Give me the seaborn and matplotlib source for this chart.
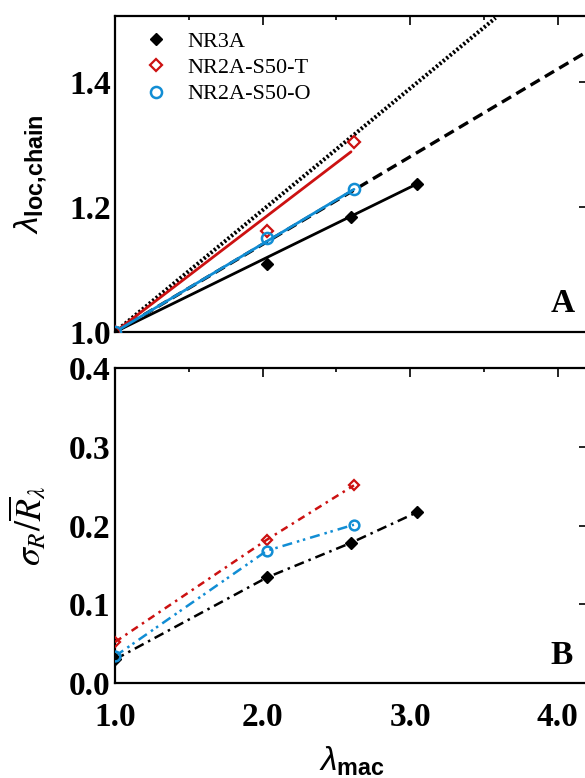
import matplotlib
matplotlib.use("Agg")
import matplotlib.pyplot as plt
import seaborn as sns
import pandas as pd
from matplotlib.lines import Line2D
from matplotlib.ticker import MultipleLocator

sns.set_theme(style="white")
plt.rcParams['font.family'] = ['Liberation Serif', 'DejaVu Serif']
plt.rcParams['mathtext.fontset'] = 'custom'
plt.rcParams['mathtext.rm'] = 'Liberation Sans'
plt.rcParams['mathtext.it'] = 'Liberation Sans:italic'
plt.rcParams['mathtext.bf'] = 'Liberation Sans:bold'
for k in ('text.color', 'axes.labelcolor', 'xtick.color', 'ytick.color'):
    plt.rcParams[k] = 'black'

# ---------------- data ----------------
series_names = ["NR3A", "NR2A-S50-T", "NR2A-S50-O"]

lam_nr3a = [1.0, 2.03, 2.60, 3.05]
loc_nr3a = [1.0, 1.109, 1.184, 1.237]
sig_nr3a = [0.030, 0.134, 0.178, 0.217]

lam_t = [1.0, 2.03, 2.62]
loc_t = [1.0, 1.162, 1.304]
sig_t = [0.052, 0.182, 0.251]

lam_o = [1.0, 2.03, 2.62]
loc_o = [1.0, 1.150, 1.229]
sig_o = [0.034, 0.168, 0.201]

# linear fit lines (panel A)
fit_nr3a_x = [1.0, 3.05]
fit_nr3a_y = [1.0, 1.237]
fit_t_x = [1.0, 2.60]
fit_t_y = [1.0, 1.288]
fit_o_x = [1.0, 2.62]
fit_o_y = [1.0, 1.228]

# reference lines (panel A)
dotted_x = [1.0, 3.58]
dotted_y = [1.0, 1.502]
dashed_x = [1.0, 4.20]
dashed_y = [1.0, 1.448]

x_ticks = [1.0, 2.0, 3.0, 4.0]
x_tick_labels = ["1.0", "2.0", "3.0", "4.0"]
yA_ticks = [1.0, 1.2, 1.4]
yA_tick_labels = ["1.0", "1.2", "1.4"]
yB_ticks = [0.0, 0.1, 0.2, 0.3, 0.4]
yB_tick_labels = ["0.0", "0.1", "0.2", "0.3", "0.4"]

# ---------------- style ----------------
BLACK = "#000000"
RED = "#cc1111"
BLUE = "#118dd4"

W, H = 585, 778
fig = plt.figure(figsize=(W / 100, H / 100), dpi=100)

def fbox(l, t, r, b):
    return [l / W, 1 - b / H, (r - l) / W, (b - t) / H]

axA = fig.add_axes(fbox(115, 16, 588, 332))
axB = fig.add_axes(fbox(115, 368, 588, 683))

XMAX = 1 + (588 - 115) / 147.5

tickfont = dict(family='Liberation Serif', weight='bold', size=24, color='black')

for ax in (axA, axB):
    ax.set_facecolor("white")
    for s in ax.spines.values():
        s.set_linewidth(1.6)
        s.set_color("black")
    ax.set_xlim(1.0, XMAX)
    ax.set_xticks(x_ticks)
    ax.xaxis.set_minor_locator(MultipleLocator(0.5))
    ax.tick_params(which='both', direction='in', top=True, right=True,
                   color='black', width=1.2)
    ax.tick_params(which='major', length=6.5)
    ax.tick_params(which='minor', length=3.2)
    ax.tick_params(axis='y', which='minor', left=False, right=False)
    ax.tick_params(axis='x', pad=14)
    ax.tick_params(axis='y', pad=3)
    ax.grid(False)

# ---------- panel A ----------
sns.lineplot(x=dotted_x, y=dotted_y, ax=axA, color=BLACK, lw=2.9,
             linestyle=(0, (0.55, 0.55)), zorder=2)
sns.lineplot(x=dashed_x, y=dashed_y, ax=axA, color=BLACK, lw=2.4,
             linestyle=(0, (3.2, 1.8)), zorder=2)
sns.lineplot(x=fit_nr3a_x, y=fit_nr3a_y, ax=axA, color=BLACK, lw=2.0, zorder=3)
sns.lineplot(x=fit_t_x, y=fit_t_y, ax=axA, color=RED, lw=2.0, zorder=3)
sns.lineplot(x=fit_o_x, y=fit_o_y, ax=axA, color=BLUE, lw=2.0, zorder=3)

axA.plot(lam_nr3a, loc_nr3a, linestyle='none', marker='D', ms=6.5,
         color=BLACK, mec=BLACK, zorder=5)
axA.plot(lam_t, loc_t, linestyle='none', marker='D', ms=6.5,
         mfc='none', mec=RED, mew=1.6, zorder=5)
axA.plot(lam_o, loc_o, linestyle='none', marker='o', ms=8,
         mfc='none', mec=BLUE, mew=1.8, zorder=5)

axA.set_ylim(1.0, 1.505)
axA.set_yticks(yA_ticks)
axA.set_yticklabels(yA_tick_labels, fontdict=tickfont)
axA.set_xticklabels([])
axA.set_ylabel(r'$\mathit{\lambda}_{\mathbf{loc{,}chain}}$', fontsize=24,
               math_fontfamily='custom', color='black')
axA.yaxis.set_label_coords(-0.14, 0.5)
axA.text(563 / W, 1 - 304 / H, "A", transform=fig.transFigure,
         ha='center', va='center', fontsize=24, fontweight='bold',
         family='Liberation Serif', color='black')

handles = [
    Line2D([], [], linestyle='none', marker='D', ms=6.5, color=BLACK),
    Line2D([], [], linestyle='none', marker='D', ms=6.5, mfc='none', mec=RED, mew=1.6),
    Line2D([], [], linestyle='none', marker='o', ms=8, mfc='none', mec=BLUE, mew=1.8),
]
leg = axA.legend(handles, series_names, loc='upper left',
                 bbox_to_anchor=(0.03, 1.0), frameon=False,
                 prop=dict(family='Liberation Serif', size=16),
                 handlelength=1.0, handletextpad=0.9, labelspacing=0.25,
                 borderaxespad=0.3, labelcolor='black')

# ---------- panel B ----------
sns.lineplot(x=lam_nr3a, y=sig_nr3a, ax=axB, color=BLACK, lw=1.8,
             linestyle=(0, (4, 2, 1, 2)), zorder=3)
sns.lineplot(x=lam_t, y=sig_t, ax=axB, color=RED, lw=1.8,
             linestyle=(0, (3, 2, 1, 2)), zorder=3)
sns.lineplot(x=lam_o, y=sig_o, ax=axB, color=BLUE, lw=1.8,
             linestyle=(0, (4, 2, 1, 1.5, 1, 2)), zorder=3)

axB.plot(lam_nr3a, sig_nr3a, linestyle='none', marker='D', ms=6.5,
         color=BLACK, zorder=5)
axB.plot(lam_t, sig_t, linestyle='none', marker='D', ms=5.5,
         mfc='none', mec=RED, mew=1.6, zorder=5)
axB.plot(lam_o, sig_o, linestyle='none', marker='o', ms=7,
         mfc='none', mec=BLUE, mew=1.8, zorder=5)

axB.set_ylim(0.0, 0.4)
axB.set_yticks(yB_ticks)
axB.set_yticklabels(yB_tick_labels, fontdict=tickfont)
axB.set_xticklabels(x_tick_labels, fontdict=tickfont)
axB.set_ylabel(r'$\sigma_{\mathit{R}}/\overline{\mathit{R}}_{\lambda}$', fontsize=26,
               math_fontfamily='stix', color='black')
axB.yaxis.set_label_coords(-0.14, 0.5)
axB.set_xlabel(r'$\mathit{\lambda}_{\mathbf{mac}}$', fontsize=24,
               math_fontfamily='custom', labelpad=8, color='black')
axB.text(562 / W, 1 - 655 / H, "B", transform=fig.transFigure,
         ha='center', va='center', fontsize=24, fontweight='bold',
         family='Liberation Serif', color='black')

fig.savefig("out.png", dpi=100, facecolor='white')
